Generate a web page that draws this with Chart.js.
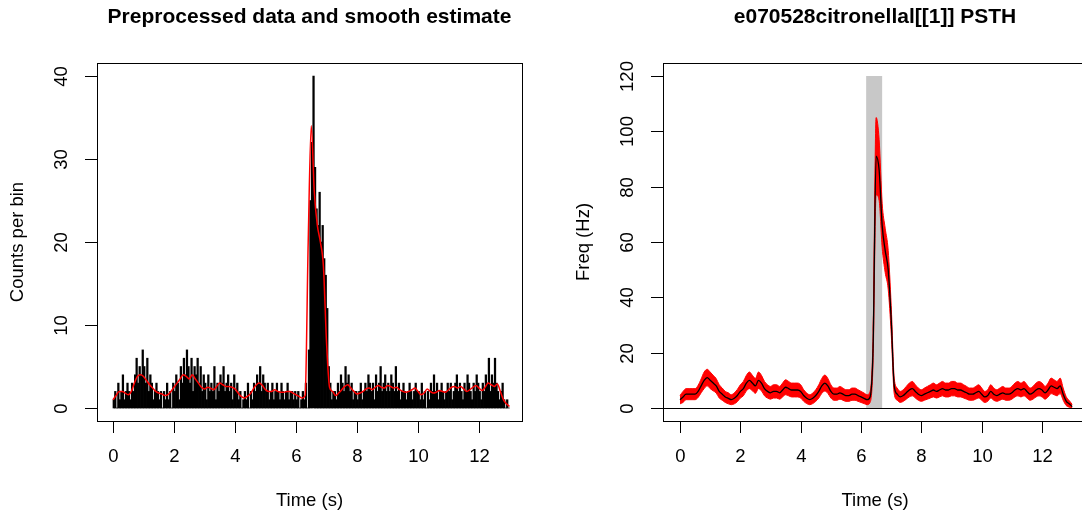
<!DOCTYPE html>
<html><head><meta charset="utf-8">
<script src="https://cdn.jsdelivr.net/npm/chart.js@4.4.0/dist/chart.umd.min.js"></script>
<style>
html,body{margin:0;padding:0;background:#fff;overflow:hidden;width:1082px;height:513px}
#w1{position:absolute;left:0;top:0;width:541px;height:513px}
#w2{position:absolute;left:541px;top:0;width:560px;height:513px}
</style></head><body>
<div id="w1"><canvas id="c1"></canvas></div>
<div id="w2"><canvas id="c2"></canvas></div>
<script>
const binWidth = 0.05;
const counts = [
1,2,0,3,1,2,4,1,2,3, 2,1,3,2,4,6,3,5,4,7,
5,3,6,2,4,3,1,2,3,2, 1,2,0,2,1,3,1,2,0,3,
2,4,3,1,5,3,6,4,7,5, 3,6,2,5,4,6,3,5,2,4,
3,1,4,2,3,2,5,1,3,2, 4,3,5,2,3,4,2,3,1,4,
2,3,1,2,0,1,2,1,3,0, 2,1,3,2,4,3,5,2,4,3,
2,3,1,2,3,1,2,3,2,1, 3,2,1,2,3,1,2,2,1,2,
1,2,0,1,2,1,3,0,7,25, 32,40,29,24,22,26,20,22,18,16,
12,5,3,1,2,2,1,3,2,4, 3,2,5,3,4,2,3,1,2,2,
1,2,3,1,2,3,2,4,3,2, 3,1,4,2,3,5,2,3,4,2,
3,2,4,3,2,5,2,3,1,2, 3,2,1,2,3,2,1,2,3,2,
2,1,3,1,2,0,2,1,3,2, 4,2,3,1,2,3,2,1,2,3,
2,3,1,2,3,4,2,3,2,1, 3,2,4,3,2,1,3,2,4,3,
2,1,3,2,4,3,6,2,4,3, 6,3,2,1,2,3,1,0,1,0];
const smoothStep = 0.1;
const smooth = [
1.0,1.5,2.0,2.0,1.8,1.6,2.0,3.0,3.8,4.0,
3.8,3.3,2.8,2.4,2.0,1.8,1.7,1.5,1.6,2.0,
2.5,3.0,3.5,4.0,3.8,3.5,4.0,3.5,3.0,2.5,
2.3,2.5,2.4,2.2,2.6,3.0,2.8,2.6,2.6,2.5,
2.3,1.8,1.4,1.2,1.4,1.7,2.3,2.8,3.0,2.7,
2.2,2.0,2.0,2.2,2.0,1.9,1.9,2.0,2.0,1.8,
1.6,1.4,1.2,1.5,20,34,26,22,20,17,
8,2.5,2.0,1.5,1.8,2.2,2.6,2.8,2.4,2.0,
1.7,1.8,2.0,2.3,2.4,2.2,2.5,2.7,2.5,2.4,
2.7,2.6,2.4,2.5,2.2,2.0,1.9,2.0,2.2,2.4,
2.0,1.6,1.8,2.3,2.0,1.8,1.9,2.1,2.0,1.9,
2.2,2.5,2.6,2.4,2.6,2.3,2.0,2.2,2.5,2.7,
2.4,2.1,2.5,3.0,2.8,2.6,2.9,2.0,1.0,0.5,
0.2];
const freq = [
3,4,5,5,5,5,6,8,10,11,
10,9,8,6,5,4,3.5,3,3.5,4.5,
6,7,9,10,9,8,10,9,7,6,
5.5,6,6,5.5,6.5,7.5,7,6.5,6.5,6.5,
6,4.5,3.5,3,3.5,4.5,6,8,9,8,
6,5,5,5.5,5,4.5,4.5,5,5,4.5,
4,3.5,3,4,22,91,86,66,57,50,
32,8,5,4,4.5,5.5,6.5,7,6,5,
4.5,5,5.5,6,6.5,6,6.5,7,6.5,6.5,
7,7,6.5,6.5,6,5.5,5,5,5.5,6,
5,4,4.5,6,5,4.5,5,5.5,5,5,
5.5,6.5,7,6.5,7,6,5,5.5,6.5,7,
6.5,5.5,6.5,8,7.5,7,8,5,2.5,1.5,
0.5];
const halfWidth = [
1.5,2,2,2,2,2,2.2,2.5,3,3,
3,2.8,2.6,2.4,2.2,2,2,1.8,2,2.2,
2.4,2.6,2.8,3,2.8,2.7,3,2.8,2.6,2.4,
2.3,2.4,2.4,2.3,2.5,2.7,2.6,2.5,2.5,2.5,
2.4,2.1,1.9,1.8,1.9,2.1,2.4,2.7,2.9,2.7,
2.4,2.2,2.2,2.3,2.2,2.1,2.1,2.2,2.2,2.1,
2,1.9,1.8,2,5,14,11,8,8,7,
5,2.8,2.2,2,2.1,2.3,2.5,2.6,2.4,2.2,
2.1,2.2,2.3,2.4,2.5,2.4,2.5,2.6,2.5,2.5,
2.6,2.6,2.5,2.5,2.4,2.3,2.2,2.2,2.3,2.4,
2.2,2,2.1,2.4,2.2,2.1,2.2,2.3,2.2,2.2,
2.3,2.5,2.6,2.5,2.6,2.4,2.2,2.3,2.5,2.6,
2.5,2.3,2.5,2.8,2.7,2.6,2.8,2.2,1.6,1.2,
0.8];
const stimOnset = 6.17, stimOffset = 6.70;
const xTicks = [0,2,4,6,8,10,12];
const yTicksLeft = [0,10,20,30,40];
const yTicksRight = [0,20,40,60,80,100,120];

const FONT = '"Liberation Sans", Arial, sans-serif';

function rAxes(opts){
  return {
    id:'raxes',
    beforeDatasetsDraw(chart){
      if(!opts.stim) return;
      const c=chart.ctx, x=chart.scales.x, y=chart.scales.y;
      c.save();
      c.fillStyle='#c8c8c8';
      const x0=x.getPixelForValue(stimOnset), x1=x.getPixelForValue(stimOffset);
      const y0=y.getPixelForValue(0), y1=y.getPixelForValue(120);
      c.fillRect(x0,y1,x1-x0,y0-y1);
      c.restore();
    },
    afterDatasetsDraw(chart){
      const c=chart.ctx, a=chart.chartArea, x=chart.scales.x, y=chart.scales.y;
      c.save();
      c.strokeStyle='#000'; c.lineWidth=1;
      if(opts.stim){
        const yz=Math.round(y.getPixelForValue(0))+0.5;
        c.beginPath(); c.moveTo(a.left,yz); c.lineTo(a.right,yz); c.stroke();
      }
      c.strokeRect(Math.round(a.left)+0.5,Math.round(a.top)+0.5,Math.round(a.right-a.left),Math.round(a.bottom-a.top));
      c.fillStyle='#000';
      c.font='18.5px '+FONT;
      c.textAlign='center'; c.textBaseline='middle';
      xTicks.forEach(v=>{
        const px=Math.round(x.getPixelForValue(v))+0.5;
        c.beginPath(); c.moveTo(px,a.bottom); c.lineTo(px,a.bottom+12); c.stroke();
        c.fillText(String(v),px,a.bottom+36);
      });
      opts.yTicks.forEach(v=>{
        const py=Math.round(y.getPixelForValue(v))+0.5;
        c.beginPath(); c.moveTo(a.left-12,py); c.lineTo(a.left,py); c.stroke();
        c.save(); c.translate(a.left-35,py); c.rotate(-Math.PI/2); c.fillText(String(v),0,0); c.restore();
      });
      c.fillText('Time (s)',(a.left+a.right)/2,a.bottom+80);
      c.save(); c.translate(a.left-79,(a.top+a.bottom)/2); c.rotate(-Math.PI/2); c.fillText(opts.ylab,0,0); c.restore();
      c.font='bold 21px '+FONT;
      c.fillText(opts.title,(a.left+a.right)/2,17);
      c.restore();
    }
  };
}

const histData = counts.map((v,i)=>({x:i*binWidth+binWidth/2,y:v}));
const smoothData = smooth.map((v,i)=>({x:i*smoothStep,y:v}));
const freqData = freq.map((v,i)=>({x:i*smoothStep,y:v}));
const upperData = freq.map((v,i)=>({x:i*smoothStep,y:v+halfWidth[i]}));
const lowerData = freq.map((v,i)=>({x:i*smoothStep,y:Math.max(v-halfWidth[i],0)}));

Chart.defaults.animation=false;
new Chart(document.getElementById('c1'),{
  type:'bar',
  data:{datasets:[
    {type:'line',data:smoothData,borderColor:'#ff0000',borderWidth:1.5,pointRadius:0,cubicInterpolationMode:'monotone',order:0},
    {type:'bar',data:histData,backgroundColor:'#000',barThickness:1.6,order:1}
  ]},
  options:{responsive:true,maintainAspectRatio:false,
    layout:{padding:{left:97,top:63,right:19,bottom:92}},
    plugins:{legend:{display:false},tooltip:{enabled:false}},
    scales:{x:{type:'linear',offset:false,min:-0.525,max:13.41,display:false},
            y:{min:-1.566,max:41.57,display:false}}},
  plugins:[rAxes({yTicks:yTicksLeft,ylab:'Counts per bin',title:'Preprocessed data and smooth estimate'})]
});
new Chart(document.getElementById('c2'),{
  type:'line',
  data:{datasets:[
    {data:freqData,borderColor:'#000',borderWidth:1.3,pointRadius:0,cubicInterpolationMode:'monotone',fill:false,order:0},
    {data:lowerData,borderColor:'#ff0000',borderWidth:1,pointRadius:0,cubicInterpolationMode:'monotone',fill:false,order:2},
    {data:upperData,borderColor:'#ff0000',borderWidth:1,pointRadius:0,cubicInterpolationMode:'monotone',fill:'-1',backgroundColor:'#ff0000',order:1}
  ]},
  options:{responsive:true,maintainAspectRatio:false,
    layout:{padding:{left:122,top:63,right:14,bottom:92}},
    plugins:{legend:{display:false},tooltip:{enabled:false}},
    scales:{x:{type:'linear',min:-0.564,max:13.49,display:false},
            y:{min:-4.7,max:124.7,display:false}}},
  plugins:[rAxes({yTicks:yTicksRight,ylab:'Freq (Hz)',title:'e070528citronellal[[1]] PSTH',stim:true})]
});
</script></body></html>
